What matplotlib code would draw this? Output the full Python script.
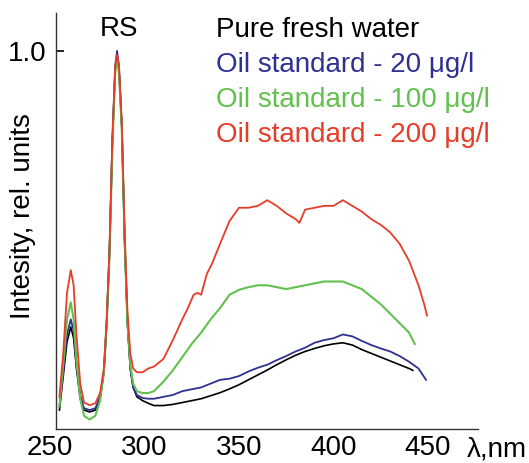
import matplotlib
matplotlib.use("Agg")
import matplotlib.pyplot as plt

plt.rcParams['font.family'] = ['Liberation Sans', 'DejaVu Sans']

# ---- data ----
wl_water = [255, 257, 259, 261, 262.5, 264, 266, 268, 271, 274,
            276.5, 278.5, 280, 281.5, 283, 284.5, 285.5, 286.5, 288, 289.5,
            291, 292.5, 294, 296, 299, 302, 305, 310, 315, 320,
            325, 330, 335, 340, 345, 350, 355, 360, 365, 370,
            375, 380, 385, 390, 395, 400, 405, 410, 415, 420,
            425, 430, 435, 440, 442]
I_water = [0.05, 0.14, 0.23, 0.27, 0.24, 0.16, 0.08, 0.05, 0.045, 0.05,
           0.08, 0.15, 0.28, 0.47, 0.76, 0.95, 0.99, 0.95, 0.80, 0.50,
           0.28, 0.16, 0.11, 0.085, 0.075, 0.068, 0.062, 0.062, 0.065, 0.07,
           0.075, 0.08, 0.088, 0.096, 0.106, 0.117, 0.13, 0.143, 0.156, 0.17,
           0.183, 0.195, 0.205, 0.213, 0.22, 0.225, 0.228, 0.222, 0.21, 0.2,
           0.19, 0.18, 0.17, 0.16, 0.155]

wl_20 = wl_water[:-1] + [445, 449]
I_20 = [0.06, 0.15, 0.25, 0.29, 0.26, 0.17, 0.09, 0.055, 0.05, 0.055,
        0.085, 0.15, 0.28, 0.47, 0.76, 0.96, 1.0, 0.96, 0.80, 0.50,
        0.28, 0.16, 0.11, 0.09, 0.082, 0.08, 0.08, 0.085, 0.09, 0.1,
        0.105, 0.11, 0.12, 0.13, 0.133, 0.14, 0.152, 0.162, 0.17, 0.182,
        0.193, 0.205, 0.215, 0.228, 0.235, 0.24, 0.25, 0.245, 0.233, 0.222,
        0.213, 0.205, 0.193, 0.178, 0.16, 0.13]

wl_100 = wl_water[:-1] + [443]
I_100 = [0.06, 0.17, 0.29, 0.335, 0.29, 0.18, 0.08, 0.035, 0.025, 0.035,
         0.075, 0.15, 0.28, 0.46, 0.74, 0.94, 0.98, 0.94, 0.79, 0.50,
         0.28, 0.17, 0.12, 0.1, 0.095, 0.095, 0.1, 0.125, 0.155, 0.19,
         0.225, 0.255, 0.29, 0.32, 0.355, 0.368, 0.375, 0.38, 0.38, 0.375,
         0.37, 0.375, 0.38, 0.385, 0.39, 0.39, 0.39, 0.38, 0.37, 0.35,
         0.33, 0.305, 0.28, 0.255, 0.225]

wl_200 = [255, 257, 259, 261, 262.5, 264, 266, 268, 271, 274,
          276.5, 278.5, 280, 281.5, 283, 284.5, 285.5, 286.5, 288, 289.5,
          291, 292.5, 294, 296, 299, 302, 305, 310, 315, 320,
          323, 326, 328, 330, 333, 336, 340, 345, 350, 355,
          360, 365, 370, 375, 380, 382, 385, 390, 395, 400,
          405, 410, 415, 420, 425, 430, 435, 440, 445, 448,
          449.5]
I_200 = [0.085, 0.2, 0.36, 0.42, 0.38, 0.25, 0.12, 0.07, 0.063, 0.068,
         0.095, 0.16, 0.29, 0.48, 0.77, 0.96, 0.99, 0.96, 0.81, 0.52,
         0.31, 0.2, 0.16, 0.15, 0.15, 0.16, 0.165, 0.185, 0.235, 0.29,
         0.32, 0.355, 0.36, 0.355, 0.41, 0.44, 0.49, 0.55, 0.585, 0.585,
         0.59, 0.605, 0.59, 0.57, 0.555, 0.545, 0.58, 0.585, 0.59, 0.59,
         0.605, 0.59, 0.575, 0.555, 0.54, 0.52, 0.49, 0.445, 0.38, 0.33,
         0.30]

labels = ["Pure fresh water", "Oil standard - 20 \u03bcg/l",
          "Oil standard - 100 \u03bcg/l", "Oil standard - 200 \u03bcg/l"]
colors = ["#000000", "#2e3192", "#62c04e", "#e63c28"]
x_ticks = [250, 300, 350, 400, 450]
y_ticks = [1.0]

# ---- figure ----
W, H = 529, 463
fig = plt.figure(figsize=(W / 100, H / 100), dpi=100)
ax = fig.add_axes([50 / W, 1 - 429 / H, (478 - 50) / W, (429 - 13) / H])

series = [(wl_water, I_water), (wl_20, I_20), (wl_100, I_100), (wl_200, I_200)]
widths = [1.2, 1.3, 1.5, 1.3]
for (x, y), c, lw in zip(series, colors, widths):
    ax.plot(x, y, color=c, lw=lw)

ax.set_xticks(x_ticks)
ax.set_xticklabels([str(t) for t in x_ticks])
ax.set_yticks(y_ticks)
ax.set_yticklabels(["1.0"])
ax.set_xlim(250, 476.5)
ax.set_ylim(0, 1.10)

ax.spines['top'].set_visible(False)
ax.spines['right'].set_visible(False)
ax.spines['left'].set_position(('data', 253.2))
ax.spines['bottom'].set_bounds(253.2, 476.5)
for s in ('left', 'bottom'):
    ax.spines[s].set_linewidth(1.0)
    ax.spines[s].set_color('#333333')

ax.tick_params(axis='x', length=0, pad=4, labelsize=20)
ax.tick_params(axis='y', direction='in', length=6, width=1.2, pad=7, labelsize=20)

def px(x, y):
    return x / W, 1 - y / H

fig.text(*px(23, 216), "Intesity, rel. units", fontsize=20, rotation=90,
         ha='center', va='center')
fig.text(*px(119.5, 36), "RS", fontsize=20, ha='center', va='baseline')
ybase = [37, 72, 107, 142]
for lab, c, yb in zip(labels, colors, ybase):
    fig.text(*px(216, yb), lab, fontsize=20, color=c, ha='left', va='baseline')
fig.text(*px(467, 456), "\u03bb,nm", fontsize=20, ha='left', va='baseline')

fig.savefig("out.png", dpi=100)
